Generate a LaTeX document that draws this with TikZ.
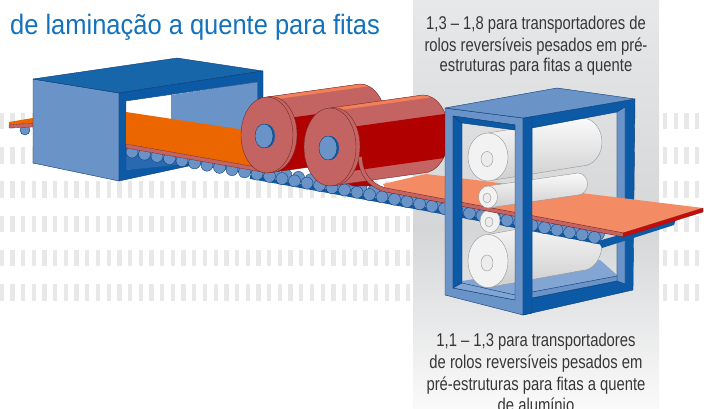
\documentclass[tikz,border=0pt]{standalone}
\usepackage{fontspec}
\setmainfont{Liberation Sans}
\newfontfamily\titlefont[FakeStretch=0.91]{Liberation Sans}
\newfontfamily\labelfont[FakeStretch=0.8]{Liberation Sans}
\definecolor{lblue}{RGB}{106,147,200}
\definecolor{dblue}{RGB}{12,90,165}
\definecolor{tblue}{RGB}{24,102,170}
\definecolor{midblue}{RGB}{40,105,175}
\definecolor{edgeblue}{RGB}{10,60,120}
\definecolor{strorange}{RGB}{236,102,0}
\definecolor{rpink}{RGB}{196,100,98}
\definecolor{rline}{RGB}{120,40,40}
\definecolor{rorange}{RGB}{242,128,88}
\definecolor{dred}{RGB}{176,0,0}
\definecolor{peach}{RGB}{243,140,100}
\definecolor{endred}{RGB}{200,10,10}
\definecolor{stripe}{RGB}{232,232,232}
\definecolor{titleblue}{RGB}{20,114,188}
\definecolor{labelgrey}{RGB}{55,55,55}
\definecolor{panA}{RGB}{231,232,233}
\definecolor{panB}{RGB}{213,214,216}
\definecolor{panC}{RGB}{250,250,250}
\definecolor{gend}{RGB}{242,242,242}
\definecolor{gline}{RGB}{150,150,150}
\definecolor{floorblue}{RGB}{130,165,212}
\begin{document}
\begin{tikzpicture}[x=1pt,y=-1pt,line join=round,
  edge/.style={draw=edgeblue,line width=0.4pt},
  redge/.style={draw=rline,line width=0.4pt},
  gedge/.style={draw=gline,line width=0.4pt},
  lab/.style={font={\labelfont\fontsize{18.5}{21}\selectfont},text=labelgrey,inner sep=0pt,anchor=base},
  ttl/.style={font={\titlefont\fontsize{28}{32}\selectfont},text=titleblue,inner sep=0pt,anchor=base west}]
\useasboundingbox (0,0) rectangle (704,409);
% background stripes
\foreach \r in {0,...,5}{\foreach \k in {0,...,66}{\fill[stripe] ({10.7*\k-0.5},{113+34.2*\r}) rectangle ++(4.3,16.5);}}
% grey panel
\shade[top color=panA,bottom color=panB] (413,0) rectangle (659,230);
\shade[top color=panB,bottom color=panC] (413,229.5) rectangle (659,409);
% texts
\node[ttl] (title) at (10,35) {de laminação a quente para fitas};
\node[lab] (l1a) at (536,30) {1,3 – 1,8 para transportadores de};
\node[lab] (l1b) at (536,51.5) {rolos reversíveis pesados em pré-};
\node[lab] (l1c) at (536,72) {estruturas para fitas a quente};
\node[lab] (l2a) at (536,346.7) {1,1 – 1,3 para transportadores};
\node[lab] (l2b) at (536,368.3) {de rolos reversíveis pesados em};
\node[lab] (l2c) at (536,390) {pré-estruturas para fitas a quente};
\node[lab] (l2d) at (536,411.7) {de alumínio};
% left strip outside the box
\filldraw[fill=lblue,edge] (25,130) circle[radius=5pt];
\fill[strorange] (9,122) -- (33,118) -- (33,123) -- (9,125) -- cycle;
\filldraw[fill=rpink,draw=rline,line width=0.3pt] (9,125) -- (33,123) -- (33,127) -- (9,128) -- cycle;
% left box
\filldraw[fill=lblue,edge] (33,79) -- (119,93) -- (119,181) -- (33,163) -- cycle;
\filldraw[fill=tblue,edge] (33,79) -- (177,58) -- (263,71) -- (119,93) -- cycle;
\filldraw[fill=dblue,edge] (119,93) -- (263,71) -- (263,150) -- (119,181) -- cycle;
\fill[white] (126,101) -- (257,82) -- (257,143) -- (126,170) -- cycle;
\fill[lblue] (171,95) -- (257,82) -- (257,143) -- (171,150) -- cycle;
\fill[midblue] (126,146) -- (215,161) -- (126,170) -- cycle;
\draw[edge] (126,170) -- (126,101) -- (257,82);
% stand interior: floor and backup rolls
\fill[floorblue] (455,282) -- (600,260) -- (625,282) -- (523,302) -- cycle;
% lower backup roll
\shade[top color=white!96!gray,bottom color=gray!38] (488,234.5) -- (582,217.5) arc[start angle=90,end angle=-90,x radius=20pt,y radius=26.5pt] -- (488,287.5) -- cycle;
\draw[gedge] (488,234.5) -- (582,217.5) arc[start angle=90,end angle=-90,x radius=20pt,y radius=26.5pt] -- (488,287.5);
\filldraw[fill=gend,gedge] (488,261) ellipse[x radius=20pt,y radius=26.5pt];
\filldraw[fill=gray!15,gedge] (487,263) ellipse[x radius=6pt,y radius=8pt];
% upper backup roll
\shade[top color=white!96!gray,bottom color=gray!38] (488,133) -- (582,118) arc[start angle=90,end angle=-90,x radius=20pt,y radius=24pt] -- (488,181) -- cycle;
\draw[gedge] (488,133) -- (582,118) arc[start angle=90,end angle=-90,x radius=20pt,y radius=24pt] -- (488,181);
\filldraw[fill=gend,gedge] (488,157) ellipse[x radius=20pt,y radius=24pt];
\filldraw[fill=gray!15,gedge] (487,159) ellipse[x radius=6pt,y radius=7.5pt];
% lower work roll body
\shade[top color=white!96!gray,bottom color=gray!38] (490,209.5) -- (580,196.5) arc[start angle=90,end angle=-90,x radius=10pt,y radius=11.5pt] -- (490,232.5) -- cycle;
% roller table
\draw[dblue,line width=4pt] plot[domain=250:600,samples=40] (\x,{152+0.174*(\x-132)+0.226*((\x-132)/100)^2+4});
\foreach \i in {0,...,37}{
  \pgfmathsetmacro\rx{132+12.5*\i}
  \pgfmathsetmacro\ry{152+0.174*(\rx-132)+0.226*((\rx-132)/100)^2}
  \filldraw[fill=lblue,draw=edgeblue,line width=0.35pt] ({\rx+4},{\ry-3.5}) circle[radius=6pt];}
\foreach \i in {0,...,37}{
  \pgfmathsetmacro\rx{132+12.5*\i}
  \pgfmathsetmacro\ry{152+0.174*(\rx-132)+0.226*((\rx-132)/100)^2}
  \filldraw[fill=lblue,draw=edgeblue,line width=0.35pt] (\rx,\ry) circle[radius=6pt];}
% lower work roll end
\filldraw[fill=gend,gedge] (490,221) ellipse[x radius=10pt,y radius=11.5pt];
\filldraw[fill=gray!15,gedge] (489,222) ellipse[x radius=4pt,y radius=5pt];
% strip inside left box
\fill[strorange] (126,112) -- (245,130) -- (262,168) -- (126,144) -- cycle;
\filldraw[fill=rpink,draw=rline,line width=0.3pt] (126,144) -- (262,168) -- (262,172) -- (126,148) -- cycle;
% roll 1
\begin{scope}
\clip (267,97) -- (360,84) arc[start angle=90,end angle=-90,x radius=26pt,y radius=38pt] -- (267,173) -- cycle;
\fill[rpink] (240,60) rectangle (400,190);
\fill[rorange] (267,97) -- ++(130,-18.2) -- ++(0,3.5) -- (267,100.5) -- cycle;
\fill[dred] (267,121) -- ++(130,-18.2) -- ++(0,60) -- (267,181) -- cycle;
\end{scope}
\draw[redge] (267,97) -- (360,84) arc[start angle=90,end angle=-90,x radius=26pt,y radius=38pt] -- (267,173);
\filldraw[fill=rpink,redge] (271,134.5) ellipse[x radius=26pt,y radius=38pt];
\filldraw[fill=rpink,redge] (267,135) ellipse[x radius=26pt,y radius=38pt];
\fill[dblue] (266,136) ellipse[x radius=9pt,y radius=12pt];
\filldraw[fill=lblue,edge] (264,136) ellipse[x radius=9pt,y radius=12pt];
% dark red under roll 2
\fill[dred] (340,180) -- (361,158) -- (376,186) -- (352,186) -- cycle;
% roll 2
\begin{scope}
\clip (330,108) -- (423,95) arc[start angle=90,end angle=-90,x radius=26pt,y radius=39pt] -- (330,186) -- cycle;
\fill[rpink] (300,60) rectangle (460,200);
\fill[rorange] (330,108) -- ++(130,-18.2) -- ++(0,3.5) -- (330,111.5) -- cycle;
\fill[dred] (330,130) -- ++(130,-18.2) -- ++(0,44) -- (330,174) -- cycle;
\end{scope}
\draw[redge] (330,108) -- (423,95) arc[start angle=90,end angle=-90,x radius=26pt,y radius=39pt] -- (330,186);
\filldraw[fill=rpink,redge] (334,146.5) ellipse[x radius=26pt,y radius=39pt];
\filldraw[fill=rpink,redge] (330,147) ellipse[x radius=26pt,y radius=39pt];
\fill[dblue] (330,148) ellipse[x radius=9pt,y radius=12pt];
\filldraw[fill=lblue,edge] (328,148) ellipse[x radius=9pt,y radius=12pt];
% stand right face frame
\filldraw[fill=dblue,edge,even odd rule] (523,118) -- (635,99) -- (633,290) -- (523,315) -- cycle
  (532,128) -- (617,112) -- (617,281) -- (532,298) -- cycle;
\filldraw[fill=lblue,edge] (617,112) -- (625,107) -- (625,284) -- (617,281) -- cycle;
\filldraw[fill=lblue,edge] (532,292) -- (617,276) -- (617,281) -- (532,298) -- cycle;
% bed under strip end
\fill[dblue] (598,241) -- (676,219) -- (674,225) -- (602,248) -- cycle;
% strip from roll 2 to the end
\fill[peach] (383,184) -- (426,174) -- (703,208) -- (623,233) -- (385,188) -- cycle;
\draw[rline,line width=4.4pt] (360,157) .. controls (361,174) and (369,185) .. (385,189.8) -- (623,234.8);
\draw[rpink,line width=3.4pt] (360,157) .. controls (361,174) and (369,185) .. (385,189.8) -- (623,234.8);
\filldraw[fill=endred,draw=rline,line width=0.3pt] (623,233) -- (703,208) -- (703,212) -- (623,237) -- cycle;
% upper work roll
\shade[top color=white!96!gray,bottom color=gray!38] (488,186) -- (578,173) arc[start angle=90,end angle=-90,x radius=9.5pt,y radius=11pt] -- (488,208) -- cycle;
\draw[gedge] (488,186) -- (578,173) arc[start angle=90,end angle=-90,x radius=9.5pt,y radius=11pt] -- (488,208);
\filldraw[fill=gend,gedge] (488,197) ellipse[x radius=9.5pt,y radius=11pt];
\filldraw[fill=gray!15,gedge] (487,198) ellipse[x radius=4pt,y radius=5pt];
% stand left face frame
\filldraw[fill=lblue,edge,even odd rule] (445,108) -- (523,118) -- (523,315) -- (445,295) -- cycle
  (453,116) -- (515,125) -- (515,300) -- (453,288) -- cycle;
\filldraw[fill=dblue,edge] (453,116) -- (462,123) -- (462,283) -- (453,288) -- cycle;
\filldraw[fill=dblue,edge] (453,116) -- (515,125) -- (515,130) -- (462,123) -- cycle;
\filldraw[fill=floorblue,edge] (453,288) -- (462,283) -- (515,295) -- (515,300) -- cycle;
% corner bar (right face, left bar)
\filldraw[fill=dblue,edge] (523,118) -- (532,116.5) -- (532,313) -- (523,315) -- cycle;
% stand top face
\filldraw[fill=lblue,edge] (445,108) -- (557,88) -- (635,99) -- (523,118) -- cycle;
\end{tikzpicture}
\end{document}
